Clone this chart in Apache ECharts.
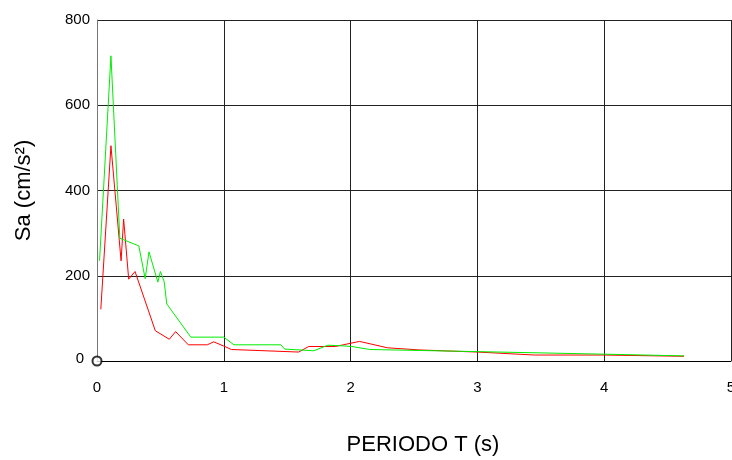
<!DOCTYPE html>
<html>
<head>
<meta charset="utf-8">
<script src="https://cdn.jsdelivr.net/npm/echarts@6/dist/echarts.min.js"></script>
<style>
  html, body { margin: 0; padding: 0; background: #fff; }
  #chart { width: 732px; height: 460px; }
</style>
</head>
<body>
<div id="chart"></div>
<script>
// periods (s) and spectral accelerations (cm/s2)
const greenT = [0.02, 0.11, 0.18, 0.33, 0.38, 0.41, 0.48, 0.50, 0.53, 0.55, 0.74, 1.00, 1.08, 1.45, 1.48, 1.71, 1.82, 1.91, 2.01, 2.15, 3.00, 4.00, 4.63];
const greenSa = [235, 716, 288, 270, 193, 256, 185, 210, 186, 134, 56, 56, 38, 38, 28, 24, 37, 36, 34, 27, 22, 16, 12];

const redT = [0.03, 0.11, 0.19, 0.21, 0.25, 0.30, 0.46, 0.57, 0.62, 0.72, 0.87, 0.92, 1.00, 1.06, 1.59, 1.67, 1.88, 2.07, 2.29, 2.54, 3.00, 3.45, 4.00, 4.63];
const redSa = [121, 505, 235, 333, 192, 210, 71, 51, 69, 38, 38, 45, 35, 27, 21, 34, 34, 46, 31, 26, 21, 14, 14, 11];

const xTicks = [0, 1, 2, 3, 4, 5];
const yTicks = [0, 200, 400, 600, 800];

const pairs = (xs, ys) => xs.map((x, i) => [x, ys[i]]);

const chart = echarts.init(document.getElementById("chart"));

const font = "Liberation Sans, Arial, sans-serif";

chart.setOption({
  animation: false,
  backgroundColor: "#fff",
  grid: { left: 97, right: 1, top: 20, bottom: 99, containLabel: false, outerBoundsMode: "none" },
  xAxis: {
    type: "value",
    min: xTicks[0],
    max: xTicks[xTicks.length - 1],
    interval: 1,
    name: "PERIODO T (s)",
    nameLocation: "middle",
    nameGap: 73,
    nameTextStyle: { fontFamily: font, fontSize: 22, color: "#000", padding: [0, 0, 0, 18] },
    axisLine: { show: true, lineStyle: { color: "#000", width: 1 } },
    axisTick: { show: false },
    axisLabel: { fontFamily: font, fontSize: 15, color: "#000", margin: 19 },
    splitLine: { show: true, lineStyle: { color: "#222", width: 1 } },
  },
  yAxis: {
    type: "value",
    min: yTicks[0],
    max: yTicks[yTicks.length - 1],
    interval: 200,
    name: "Sa (cm/s²)",
    nameLocation: "middle",
    nameGap: 62,
    nameTextStyle: { fontFamily: font, fontSize: 22, color: "#000" },
    axisLine: { show: true, lineStyle: { color: "#777", width: 1 } },
    axisTick: { show: false },
    axisLabel: {
      fontFamily: font, fontSize: 15, color: "#000", margin: 7,
      formatter: (v) => (v === 0 ? "{z|0}" : String(v)),
      rich: { z: { fontFamily: font, fontSize: 15, color: "#000", padding: [0, 6, 4, 0] } },
    },
    splitLine: { show: true, lineStyle: { color: "#222", width: 1 } },
  },
  series: [
    {
      type: "line",
      data: pairs(redT, redSa),
      symbol: "none",
      lineStyle: { color: "#ff0000", width: 1 },
      z: 2,
    },
    {
      type: "line",
      data: pairs(greenT, greenSa),
      symbol: "none",
      lineStyle: { color: "#00ee00", width: 1 },
      z: 3,
    },
    {
      type: "scatter",
      data: [[0, 0]],
      symbol: "emptyCircle",
      symbolSize: 9,
      itemStyle: { color: "#000", borderWidth: 1 },
      clip: false,
      silent: true,
      z: 4,
    },
  ],
});
</script>
</body>
</html>
